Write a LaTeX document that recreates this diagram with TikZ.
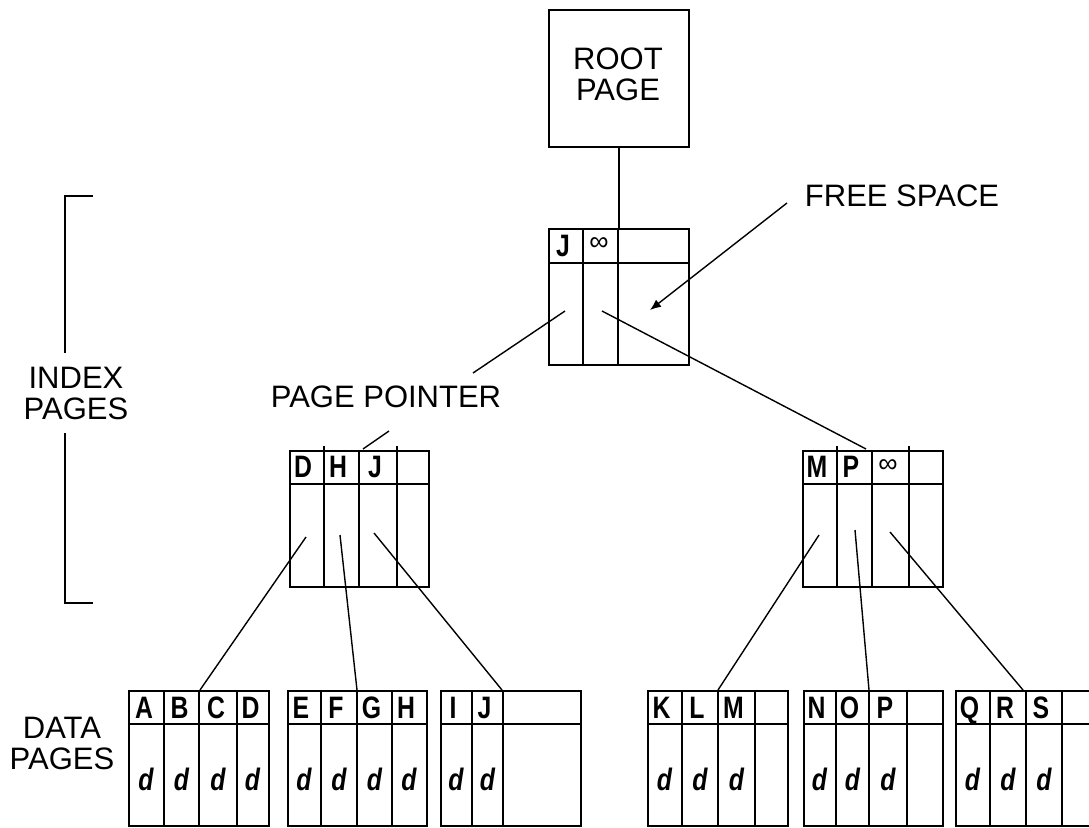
\documentclass[tikz,border=0pt]{standalone}
\usepackage{fontspec}
\setmainfont{Liberation Sans}
\newfontfamily\keyfam[FakeStretch=0.8]{Liberation Sans}
\usetikzlibrary{arrows.meta}
\newcommand\lblf{\fontsize{31pt}{31pt}\selectfont}
\newcommand\keyf{\keyfam\bfseries\fontsize{31pt}{31pt}\selectfont}
\newcommand\datf{\keyfam\bfseries\itshape\fontsize{31pt}{31pt}\selectfont}
\newcommand\inff{\fontsize{27pt}{27pt}\selectfont}
\begin{document}
\begin{tikzpicture}[x=1pt,y=-1pt,
  box/.style={draw, line width=2pt, inner sep=0pt, rectangle, anchor=north west},
  rule/.style={line width=2pt},
  link/.style={line width=1.4pt},
  lbl/.style={font=\lblf, align=center, inner sep=0pt},
  key/.style={font=\keyf, anchor=base, inner sep=0pt},
  dat/.style={font=\datf, anchor=base, inner sep=0pt},
  inf/.style={font=\inff, inner sep=0pt}]
\useasboundingbox (0,0) rectangle (1089,827);

% ---------- root page ----------
\node[box, minimum width=140pt, minimum height=137pt] (root) at (548,9) {};
\node[lbl] (roottxt) at (618,74) {ROOT\\PAGE};

% ---------- root index page ----------
\node[box, minimum width=140pt, minimum height=136pt] (ri) at (548,228) {};
\draw[rule] (548,263) -- (688,263);
\foreach \c in {583,618} \draw[rule] (\c,228) -- (\c,364);
\node[key] (riJ) at (563,256) {J};
\node[inf] (riInf) at (599,244) {∞};

% ---------- left index page ----------
\node[box, minimum width=139pt, minimum height=136pt] (li) at (289,450) {};
\draw[rule] (289,484) -- (428,484);
\draw[rule] (324,446) -- (324,586);
\draw[rule] (359,450) -- (359,586);
\draw[rule] (397,446) -- (397,586);
\foreach[count=\i] \x/\t in {303/D,338/H,375/J}
  \node[key] (li\i) at (\x,477) {\t};

% ---------- right index page ----------
\node[box, minimum width=140pt, minimum height=136pt] (rx) at (802,450) {};
\draw[rule] (802,484) -- (942,484);
\draw[rule] (837,446) -- (837,586);
\draw[rule] (872,450) -- (872,586);
\draw[rule] (909,446) -- (909,586);
\node[key] (rx1) at (817,477) {M};
\node[key] (rx2) at (851,477) {P};
\node[inf] (rxInf) at (888,466) {∞};

% ---------- data pages ----------
% A B C D
\node[box, minimum width=140pt, minimum height=135pt] (dA) at (128,690) {};
\draw[rule] (128,724) -- (268,724);
\foreach \c in {164,199,237} \draw[rule] (\c,690) -- (\c,825);
\foreach[count=\i] \x/\t in {146/A,181.5/B,218/C,252.5/D}{
  \node[key] (dAk\i) at (\x-2,718) {\t};
  \node[dat] (dAd\i) at (\x,790) {d};}
% E F G H
\node[box, minimum width=139pt, minimum height=135pt] (dE) at (287,690) {};
\draw[rule] (287,724) -- (426,724);
\foreach \c in {321,357,392} \draw[rule] (\c,690) -- (\c,825);
\foreach[count=\i] \x/\t in {304/E,339/F,374.5/G,409/H}{
  \node[key] (dEk\i) at (\x-3,718) {\t};
  \node[dat] (dEd\i) at (\x,790) {d};}
% I J
\node[box, minimum width=140pt, minimum height=135pt] (dI) at (440,690) {};
\draw[rule] (440,724) -- (580,724);
\foreach \c in {472,503} \draw[rule] (\c,690) -- (\c,825);
\foreach[count=\i] \x/\t in {456/I,487.5/J}{
  \node[key] (dIk\i) at (\x-3,718) {\t};
  \node[dat] (dId\i) at (\x,790) {d};}
% K L M
\node[box, minimum width=140pt, minimum height=135pt] (dK) at (647,690) {};
\draw[rule] (647,724) -- (787,724);
\foreach \c in {682,718,755} \draw[rule] (\c,690) -- (\c,825);
\foreach[count=\i] \x/\t in {664.5/K,700/L,736.5/M}{
  \node[key] (dKk\i) at (\x-3,718) {\t};
  \node[dat] (dKd\i) at (\x,790) {d};}
% N O P
\node[box, minimum width=139pt, minimum height=135pt] (dN) at (803,690) {};
\draw[rule] (803,724) -- (942,724);
\foreach \c in {836,869,907} \draw[rule] (\c,690) -- (\c,825);
\foreach[count=\i] \x/\t in {819.5/N,852.5/O,888/P}{
  \node[key] (dNk\i) at (\x-3,718) {\t};
  \node[dat] (dNd\i) at (\x,790) {d};}
% Q R S
\node[box, minimum width=140pt, minimum height=135pt] (dQ) at (955,690) {};
\draw[rule] (955,724) -- (1095,724);
\foreach \c in {990,1026,1062} \draw[rule] (\c,690) -- (\c,825);
\foreach[count=\i] \x/\t in {972.5/Q,1008/R,1044/S}{
  \node[key] (dQk\i) at (\x-3,718) {\t};
  \node[dat] (dQd\i) at (\x,790) {d};}

% ---------- labels ----------
\node[lbl] (fs) at (902,196) {FREE SPACE};
\node[lbl] (pp) at (386,397) {PAGE POINTER};
\node[lbl] (ixl) at (76,393) {INDEX\\PAGES};
\node[lbl] (dpl) at (62,743) {DATA\\PAGES};

% bracket
\draw[rule] (93,196) -- (65,196) -- (65,353);
\draw[rule] (65,433) -- (65,603) -- (93,603);

% ---------- connectors ----------
\draw[rule] (root.south) -- (ri.north);

\coordinate (riP1) at (565,311);
\coordinate (ppTop) at (473,373);
\draw[link] (riP1) -- (ppTop);
\coordinate (ppBot) at (389,431);
\coordinate (liTop) at (363,449);
\draw[link] (ppBot) -- (liTop);

\coordinate (riP2) at (602,311);
\coordinate (rxTop) at (866,449);
\draw[link] (riP2) -- (rxTop);

\coordinate (fsTail) at (787,203);
\coordinate (fsHead) at (650,310);
\draw[link, -{Latex[length=11pt,width=9pt]}] (fsTail) -- (fsHead);

\coordinate (liP1) at (306,537);
\coordinate (liP2) at (340,535);
\coordinate (liP3) at (374,533);
\coordinate (dAtop) at (200,690);
\coordinate (dEtop) at (357,690);
\coordinate (dItop) at (502,690);
\draw[link] (liP1) -- (dAtop);
\draw[link] (liP2) -- (dEtop);
\draw[link] (liP3) -- (dItop);

\coordinate (rxP1) at (819,535);
\coordinate (rxP2) at (855,530);
\coordinate (rxP3) at (890,532);
\coordinate (dKtop) at (718,690);
\coordinate (dNtop) at (869,690);
\coordinate (dQtop) at (1023,690);
\draw[link] (rxP1) -- (dKtop);
\draw[link] (rxP2) -- (dNtop);
\draw[link] (rxP3) -- (dQtop);
\end{tikzpicture}
\end{document}
